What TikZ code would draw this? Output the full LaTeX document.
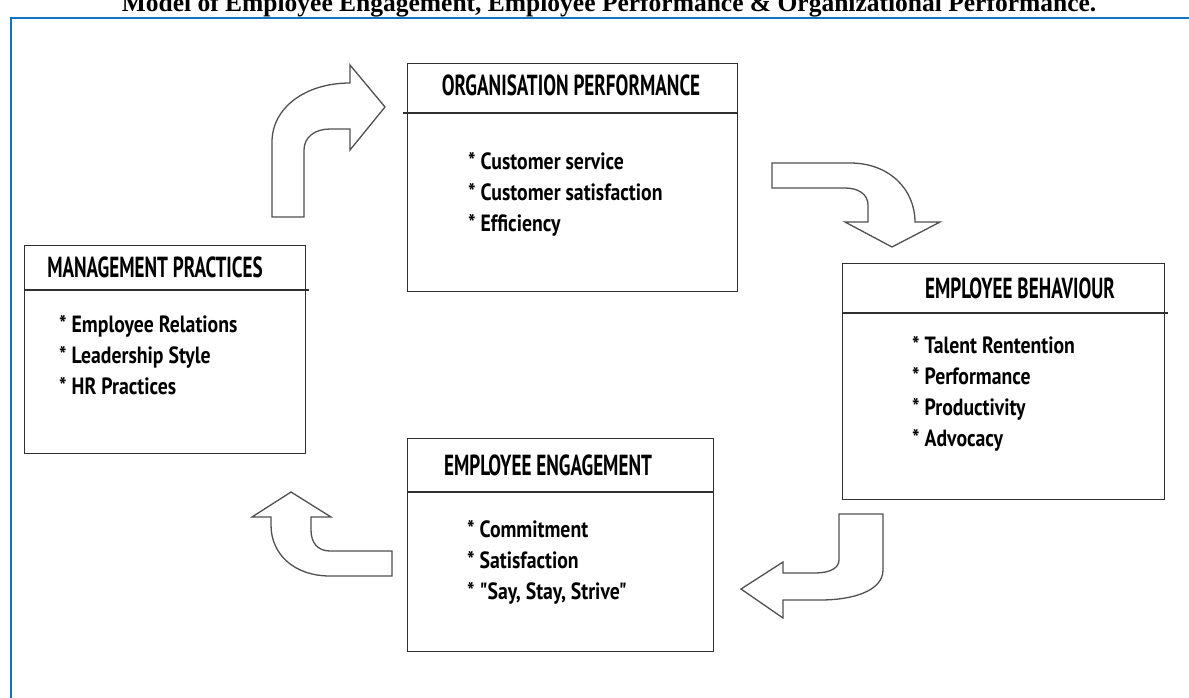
\documentclass[tikz,border=0pt]{standalone}
\usepackage{fontspec}
\setmainfont{Liberation Serif}
\newfontfamily\dfont{PT Sans}[FakeStretch=0.66]
\newfontfamily\ifont{PT Sans}[FakeStretch=0.84]
\definecolor{frameblue}{HTML}{0F74C8}
\definecolor{boxline}{HTML}{303030}
\definecolor{arrline}{HTML}{505050}
\tikzset{
  box/.style={draw=boxline, line width=1.4pt, rectangle, inner sep=0pt},
  divider/.style={draw=boxline, line width=1.3pt},
  ttl/.style={font=\dfont\bfseries\fontsize{29}{29}\selectfont, inner sep=0pt, anchor=base},
  items/.style={font=\ifont\bfseries\fontsize{23.5}{31}\selectfont, inner sep=0pt, anchor=base west, align=left},
  blockarrow/.style={draw=arrline, line width=1.3pt, fill=white, line join=miter},
  frame/.style={draw=frameblue, line width=2.6pt}
}
\begin{document}
\begin{tikzpicture}[x=1pt,y=-1pt]
\useasboundingbox (0,0) rectangle (1189,697);
% title (cut at top)
\node[font=\bfseries\fontsize{25.5}{25.5}\selectfont, inner sep=0pt, anchor=base] (title) at (609,11) {Model of Employee Engagement, Employee Performance \& Organizational Performance.};
% frame
\draw[frame] (11,700) -- (11,18) -- (1192,18);

% boxes
\node[box, minimum width=330pt, minimum height=228pt, anchor=north west] (org) at (407,63) {};
\node[box, minimum width=281pt, minimum height=208pt, anchor=north west] (mgmt) at (24,245) {};
\node[box, minimum width=322pt, minimum height=236pt, anchor=north west] (beh) at (842,263) {};
\node[box, minimum width=306pt, minimum height=213pt, anchor=north west] (eng) at (407,438) {};

% dividers
\draw[divider] ([xshift=-4pt,yshift=-50pt]org.north west) -- ([yshift=-50pt]org.north east);
\draw[divider] ([yshift=-45pt]mgmt.north west) -- ([xshift=3pt,yshift=-45pt]mgmt.north east);
\draw[divider] ([yshift=-50pt]beh.north west) -- ([xshift=3pt,yshift=-50pt]beh.north east);
\draw[divider] ([yshift=-54pt]eng.north west) -- ([yshift=-54pt]eng.north east);

% titles
\node[ttl] (orgT) at (571,95) {ORGANISATION PERFORMANCE};
\node[ttl] (mgmtT) at (155,277) {MANAGEMENT PRACTICES};
\node[ttl] (behT) at (1020,298) {EMPLOYEE BEHAVIOUR};
\node[ttl] (engT) at (548,475) {EMPLOYEE ENGAGEMENT};

% items (anchor = baseline of last line)
\node[items] (orgI) at (468,231) {* Customer service\\* Customer satisfaction\\* Efficiency};
\node[items] (mgmtI) at (59,394) {* Employee Relations\\* Leadership Style\\* HR Practices};
\node[items] (behI) at (912,446) {* Talent Rentention\\* Performance\\* Productivity\\* Advocacy};
\node[items] (engI) at (467,599) {* Commitment\\* Satisfaction\\* "Say, Stay, Strive"};

% arrow 1: up then right
\draw[blockarrow] (272,217) -- (272,142)
  .. controls (272,108) and (305,83) .. (350,83)
  -- (350,65) -- (385,107) -- (350,150) -- (350,129) -- (330,129)
  .. controls (315,129) and (304,137) .. (304,150)
  -- (304,217) -- cycle;

% arrow 2: right then down
\draw[blockarrow] (772,163) -- (850,163)
  .. controls (890,163) and (915,190) .. (915,222)
  -- (940,222) -- (892,247) -- (845,222) -- (868,222) -- (868,205)
  .. controls (868,194) and (858,188) .. (845,188)
  -- (772,188) -- cycle;

% arrow 3: down then left
\draw[blockarrow] (839,514) -- (883,514) -- (883,570)
  .. controls (883,590) and (855,600) .. (820,600)
  -- (783,600) -- (783,618) -- (741,589) -- (783,562) -- (783,573) -- (815,573)
  .. controls (830,573) and (839,568) .. (839,560)
  -- cycle;

% arrow 4: left then up
\draw[blockarrow] (392,551) -- (392,576) -- (330,576)
  .. controls (295,576) and (271,555) .. (271,525)
  -- (271,517) -- (252,517) -- (291,492) -- (331,517) -- (311,517) -- (311,530)
  .. controls (311,543) and (318,551) .. (330,551)
  -- cycle;
\end{tikzpicture}
\end{document}
